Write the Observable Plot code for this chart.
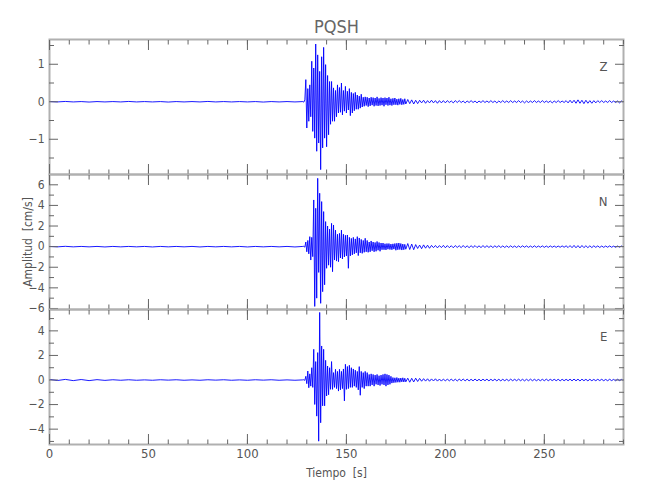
<!DOCTYPE html>
<html>
<head>
<meta charset="utf-8">
<script src="https://cdn.jsdelivr.net/npm/d3@7"></script>
<script src="https://cdn.jsdelivr.net/npm/@observablehq/plot@0.6"></script>
<style>
  body { margin: 0; background: #fff; }
  #chart { width: 650px; }
  #chart svg { display: block; }
</style>
</head>
<body>
<div id="chart"></div>
<script>
// ---- text ----
const station = "PQSH";
const channels = ["Z", "N", "E"];
const xLabel = "Tiempo  [s]";
const yLabel = "Amplitud  [cm/s]";

// ---- axes ----
const xDomain = [0, 290];
const xMajorTicks = [0, 50, 100, 150, 200, 250];
const xMinorTicks = [0, 10, 20, 30, 40, 50, 60, 70, 80, 90, 100, 110, 120, 130, 140, 150, 160, 170, 180, 190, 200, 210, 220, 230, 240, 250, 260, 270, 280, 290];
const zDomain = [-1.94, 1.66];
const nDomain = [-6.1, 7.0];
const eDomain = [-5.25, 5.74];
const zMajorTicks = [-1, 0, 1];
const zMinorTicks = [-1.5, -0.5, 0.5, 1.5];
const nMajorTicks = [-6, -4, -2, 0, 2, 4, 6];
const nMinorTicks = [-5, -3, -1, 1, 3, 5];
const eMajorTicks = [-4, -2, 0, 2, 4];
const eMinorTicks = [-5, -3, -1, 1, 3, 5];

// ---- sampling of the read-off values (s) ----
const preStart = 0, preStep = 4;         // 0 .. 128 s
const mainStart = 128.5, mainStep = 0.5; // 128.5 .. 180 s
const tailStart = 181, tailStep = 1;     // 181 .. 290 s

// ---- Z component (cm/s) ----
const zPre = [
  0.005, -0.005, 0.008, -0.005, 0.005, -0.008, 0.005, -0.005, 0.005, -0.005, 0.008,
  -0.005, 0.005, -0.005, 0.005, -0.008, 0.005, -0.005, 0.005, -0.005, 0.008, -0.005,
  0.005, -0.005, 0.005, -0.005, 0.005, -0.008, 0.005, -0.005, 0.005, -0.005, 0.005
];
const zMain = [
  -0.01, 0.05, 0.59, -0.70, 0.35, -0.52, 0.45, -0.40, 1.08, -0.79,
  0.90, -0.97, 1.54, -1.32, 1.25, -1.10, 0.81, -1.81, 1.20, -1.23,
  1.45, -0.97, 0.99, -1.20, 0.70, -0.88, 0.54, -0.60, 0.54, -0.52,
  0.37, -0.52, 0.30, -0.40, 0.45, -0.30, 0.38, -0.28, 0.50, -0.35,
  0.30, -0.25, 0.41, -0.30, 0.28, -0.22, 0.35, -0.37, 0.25, -0.30,
  0.22, -0.24, 0.25, -0.20, 0.18, -0.20, 0.15, -0.17, 0.20, -0.14,
  0.12, -0.12, 0.13, -0.10, 0.12, -0.13, 0.10, -0.11, 0.12, -0.09,
  0.11, -0.12, 0.10, -0.10, 0.13, -0.11, 0.09, -0.10, 0.11, -0.09,
  0.10, -0.12, 0.11, -0.08, 0.10, -0.10, 0.12, -0.09, 0.08, -0.10,
  0.09, -0.08, 0.10, -0.08, 0.07, -0.09, 0.08, -0.07, 0.09, -0.08,
  0.06, -0.07, 0.08, -0.06
];
const zTail = [
  0.06, -0.05, 0.05, -0.06, 0.04, -0.05,
  0.04, -0.03, 0.04, -0.04, 0.03, -0.03, 0.04, -0.03, 0.03, -0.04, 0.03, -0.03, 0.03, -0.03,
  0.03, -0.02, 0.02, -0.03, 0.03, -0.02, 0.03, -0.02, 0.02, -0.03, 0.02, -0.02, 0.03, -0.02, 0.02,
  -0.03, 0.02, -0.02, 0.03, -0.02, 0.02, -0.02, 0.03, -0.02, 0.02, -0.03, 0.02, -0.02, 0.03, -0.02,
  0.02, -0.02, 0.03, -0.02, 0.02, -0.02, 0.03, -0.02, 0.02, -0.03, 0.02, -0.02, 0.02, -0.02, 0.03,
  -0.02, 0.02, -0.02, 0.03, -0.02, 0.02, -0.02, 0.02, -0.03, 0.02, -0.02, 0.03, -0.02, 0.02, -0.02,
  0.03, -0.03, 0.04, -0.03, 0.04, -0.04, 0.05, -0.04, 0.04, -0.05, 0.04, -0.04, 0.03, -0.04, 0.03,
  -0.03, 0.03, -0.02, 0.03, -0.02,
  0.02, -0.02, 0.03, -0.02, 0.02, -0.02, 0.02, -0.03, 0.02, -0.02
];

// ---- N component (cm/s) ----
const nPre = [
  0.02, -0.02, 0.03, -0.02, 0.02, -0.02, 0.02, -0.03, 0.02, -0.02, 0.02,
  -0.02, 0.02, -0.03, 0.02, -0.02, 0.02, -0.02, 0.02, -0.03, 0.02, -0.02,
  0.02, -0.02, 0.02, -0.03, 0.02, -0.02, 0.02, -0.02, 0.02, -0.03, 0.02
];
const nMain = [
  0.03, -0.05, 0.45, -0.50, 0.60, -0.70, 0.97, -1.30, 0.90, -0.97,
  4.53, -5.80, 3.72, -5.00, 6.63, -2.50, 5.18, -5.50, 4.37, -4.37,
  3.40, -3.70, 2.43, -2.10, 2.00, -1.80, 1.70, -2.00, 2.26, -2.43,
  2.10, -1.30, 1.60, -1.40, 1.20, -1.46, 1.29, -1.10, 1.60, -1.20,
  1.20, -1.00, 1.10, -0.90, 1.13, -2.10, 0.90, -0.90, 0.80, -0.80,
  0.90, -0.70, 0.75, -0.60, 0.97, -0.87, 0.84, -0.60, 0.70, -0.65,
  0.60, -0.55, 0.81, -0.50, 0.60, -0.55, 0.45, -0.50, 0.55, -0.40,
  0.45, -0.50, 0.40, -0.45, 0.50, -0.35, 0.40, -0.45, 0.35, -0.30,
  0.35, -0.30, 0.28, -0.32, 0.30, -0.25, 0.30, -0.28, 0.25, -0.30,
  0.27, -0.24, 0.30, -0.35, 0.33, -0.30, 0.35, -0.28, 0.30, -0.33,
  0.25, -0.30, 0.22, -0.25
];
const nTail = [
  0.30, -0.28, 0.25, -0.30,
  0.20, -0.18, 0.15, -0.20, 0.17, -0.15, 0.14, -0.16,
  0.12, -0.10, 0.11, -0.12, 0.10, -0.09, 0.12, -0.11, 0.10, -0.10, 0.09, -0.11, 0.10, -0.08, 0.09, -0.10, 0.11, -0.09, 0.08,
  -0.10, 0.09, -0.08, 0.10, -0.09, 0.08, -0.09, 0.10, -0.08, 0.09, -0.08, 0.08, -0.09, 0.08, -0.07, 0.09, -0.08, 0.07, -0.08,
  0.07, -0.08, 0.08, -0.07, 0.06, -0.08, 0.07, -0.07, 0.08, -0.06, 0.07, -0.07, 0.06, -0.07, 0.08,
  -0.07, 0.06, -0.06, 0.07, -0.07, 0.06, -0.07, 0.07, -0.06, 0.06, -0.07, 0.06, -0.06, 0.07, -0.06,
  0.08, -0.09, 0.10, -0.10, 0.12, -0.11, 0.10, -0.12, 0.11, -0.10, 0.09, -0.10, 0.08, -0.09, 0.08,
  -0.07, 0.07, -0.08, 0.06, -0.07,
  0.06, -0.06, 0.07, -0.06, 0.05, -0.06, 0.06, -0.05, 0.06, -0.06
];

// ---- E component (cm/s) ----
const ePre = [
  0.05, -0.04, 0.05, -0.05, 0.04, -0.05, 0.03, -0.03, 0.02, -0.02, 0.02,
  -0.02, 0.01, -0.02, 0.02, -0.01, 0.02, -0.02, 0.01, -0.02, 0.02, -0.01,
  0.02, -0.02, 0.01, -0.02, 0.02, -0.01, 0.02, -0.02, 0.01, -0.02, 0.01
];
const eMain = [
  0.02, -0.03, 0.30, -0.30, 0.73, -0.63, 0.50, -0.50, 1.00, -0.60,
  2.50, -1.99, 1.50, -2.94, 2.23, -4.98, 5.50, -3.48, 2.77, -2.10,
  2.50, -2.10, 1.60, -1.30, 1.14, -1.20, 1.00, -0.76, 1.50, -0.76,
  0.60, -0.60, 0.87, -0.70, 0.70, -0.90, 0.87, -0.80, 0.70, -0.70,
  0.90, -1.70, 1.28, -0.76, 1.10, -0.70, 1.20, -0.60, 1.00, -0.60,
  0.90, -0.50, 0.80, -0.60, 0.70, -0.80, 1.09, -1.24, 0.70, -0.60,
  0.60, -0.70, 0.70, -0.50, 0.60, -0.50, 0.45, -0.50, 0.50, -0.40,
  0.45, -0.50, 0.40, -0.35, 0.45, -0.40, 0.35, -0.45, 0.40, -0.35,
  0.45, -0.40, 0.50, -0.50, 0.45, -0.40, 0.40, -0.35, 0.30, -0.25,
  0.20, -0.22, 0.18, -0.20, 0.20, -0.18, 0.15, -0.18, 0.16, -0.15,
  0.18, -0.16, 0.14, -0.15
];
const eTail = [
  0.15, -0.18, 0.14, -0.16, 0.15, -0.12, 0.13,
  -0.10, 0.11, -0.09, 0.10, -0.10, 0.09, -0.08, 0.10, -0.09, 0.08, -0.09, 0.08, -0.08,
  0.08, -0.07, 0.08, -0.08, 0.07, -0.08, 0.07, -0.06, 0.08, -0.07, 0.07, -0.07, 0.06, -0.07, 0.08,
  -0.07, 0.06, -0.07, 0.07, -0.06, 0.07, -0.07, 0.06, -0.06, 0.07, -0.07, 0.06, -0.07, 0.06, -0.06,
  0.06, -0.07, 0.07, -0.06, 0.06, -0.06, 0.07, -0.06, 0.06, -0.07, 0.06, -0.06, 0.07, -0.06, 0.06,
  -0.06, 0.05, -0.06, 0.06, -0.06, 0.07, -0.06, 0.06, -0.05, 0.06, -0.06, 0.06, -0.07, 0.06, -0.06,
  0.06, -0.06, 0.07, -0.07, 0.08, -0.07, 0.07, -0.08, 0.07, -0.06, 0.06, -0.07, 0.06, -0.06, 0.05,
  -0.06, 0.06, -0.05, 0.06, -0.06, 0.05, -0.06, 0.06, -0.05, 0.05, -0.06, 0.06, -0.05, 0.05, -0.05
];

// ---- build records ----
function trace(pre, main, tail) {
  return [
    ...pre.map((v, i) => ({t: preStart + i * preStep, v})),
    ...main.map((v, i) => ({t: mainStart + i * mainStep, v})),
    ...tail.map((v, i) => ({t: tailStart + i * tailStep, v}))
  ];
}
const traces = [trace(zPre, zMain, zTail), trace(nPre, nMain, nTail), trace(ePre, eMain, eTail)];
const domains = [zDomain, nDomain, eDomain];
const majors = [zMajorTicks, nMajorTicks, eMajorTicks];
const minors = [zMinorTicks, nMinorTicks, eMinorTicks];

const FONT = "'Liberation Sans Narrow', 'DejaVu Sans Condensed', 'Roboto', sans-serif";
const TXT = "#555";
const TICK = "#666";

function panel(k, {height, marginTop, marginBottom, extra}) {
  return Plot.plot({
    width: 650,
    height,
    marginLeft: 49,
    marginRight: 27,
    marginTop,
    marginBottom,
    style: {fontFamily: FONT, fontSize: "12px", color: TXT, background: "transparent", overflow: "visible"},
    x: {domain: xDomain},
    y: {domain: domains[k]},
    marks: [
      Plot.lineY(traces[k], {x: "t", y: "v", stroke: "#0000ff", strokeWidth: 0.9}),
      Plot.frame({stroke: "#b0b0b0", strokeWidth: 2}),
      Plot.axisX(xMinorTicks, {anchor: "top", tickSize: -4.5, fill: "none", stroke: TICK, label: null}),
      Plot.axisX(xMajorTicks, {anchor: "top", tickSize: -10, fill: "none", stroke: TICK, label: null}),
      Plot.axisX(xMinorTicks, {anchor: "bottom", tickSize: -4.5, fill: "none", stroke: TICK, label: null}),
      Plot.axisX(xMajorTicks, {anchor: "bottom", tickSize: -10, fill: "none", stroke: TICK, label: null}),
      Plot.axisY(minors[k], {anchor: "left", tickSize: -5, fill: "none", stroke: TICK, label: null}),
      Plot.axisY(majors[k], {anchor: "left", tickSize: -9, fill: "none", stroke: TICK, label: null}),
      Plot.axisY(minors[k], {anchor: "right", tickSize: -5, fill: "none", stroke: TICK, label: null}),
      Plot.axisY(majors[k], {anchor: "right", tickSize: -9, fill: "none", stroke: TICK, label: null}),
      Plot.axisY(majors[k], {anchor: "left", tickSize: 0, tickPadding: 5, fill: TXT, fontSize: 12, label: null}),
      Plot.text([channels[k]], {frameAnchor: "top-right", dx: -16, dy: 22, text: d => d, fill: TXT, fontSize: 13}),
      ...extra
    ]
  });
}

const chart = document.getElementById("chart");
chart.append(panel(0, {
  height: 174, marginTop: 39, marginBottom: 0,
  extra: [Plot.text([station], {frameAnchor: "top", dy: -19, text: d => d, fill: "#666", fontSize: 18})]
}));
chart.append(panel(1, {
  height: 135, marginTop: 0, marginBottom: 0,
  extra: [Plot.text([yLabel], {frameAnchor: "left", dx: -21, rotate: -90, textAnchor: "middle", lineAnchor: "middle", text: d => d, fill: TXT, fontSize: 12})]
}));
chart.append(panel(2, {
  height: 191, marginTop: 0, marginBottom: 56,
  extra: [
    Plot.axisX(xMajorTicks, {anchor: "bottom", tickSize: 0, tickPadding: 4, fill: TXT, fontSize: 13, label: null}),
    Plot.text([xLabel], {frameAnchor: "bottom", dy: 29, lineAnchor: "middle", text: d => d, fill: TXT, fontSize: 12})
  ]
}));
</script>
</body>
</html>
